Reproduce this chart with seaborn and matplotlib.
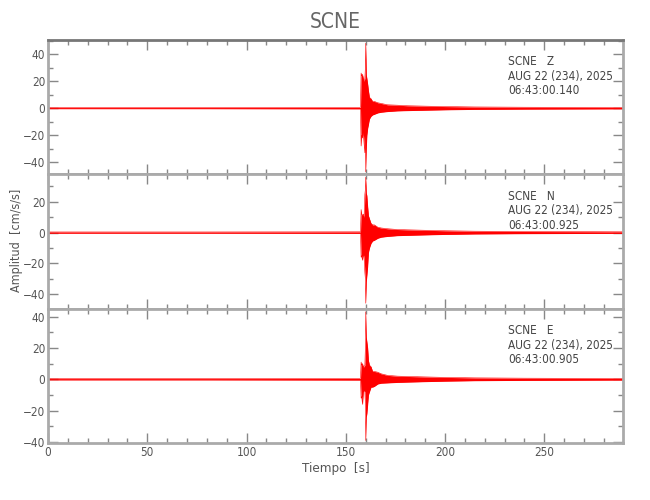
import matplotlib
matplotlib.use('Agg')
import matplotlib.pyplot as plt
from matplotlib.ticker import MultipleLocator
import pandas as pd
import seaborn as sns

# envelope of each trace (time in s, amplitude in cm/s/s)
t_s = [0, 80, 157.4, 157.7, 158.0, 158.4, 158.8, 159.2, 159.6, 159.85, 160.05, 160.3,
       160.6, 161.0, 161.4, 161.9, 162.7, 163.5, 164.4, 166.1, 167.8, 171, 176, 181,
       190, 200, 215, 240, 265, 289.5]

z_up = [0.4, 0.4, 0.5, 26, 24, 25, 22, 20, 22, 30, 48, 25,
        22, 18, 13, 8, 7, 5, 5, 4, 3.5, 2.5, 2.2, 1.8,
        1.5, 1.2, 0.9, 0.7, 0.6, 0.5]
z_lo = [-0.4, -0.4, -0.5, -28, -20, -22, -18, -26, -33, -20, -47, -30,
        -20, -15, -12, -8, -6, -5, -4.5, -3.5, -3, -2.5, -2, -1.8,
        -1.5, -1.2, -0.9, -0.7, -0.6, -0.5]

n_up = [0.4, 0.4, 0.5, 15, 12, 11, 12, 10, 25, 28, 36, 26,
        24, 17, 11, 9, 6, 5, 5, 3.5, 3, 2.5, 2, 1.8,
        1.5, 1.2, 0.9, 0.7, 0.6, 0.5]
n_lo = [-0.4, -0.4, -0.5, -16, -15, -18, -14, -16, -26, -30, -46, -32,
        -28, -22, -13, -10, -7, -5.5, -5, -3.7, -3, -2.5, -2, -1.8,
        -1.5, -1.2, -0.9, -0.7, -0.6, -0.5]

e_up = [0.4, 0.4, 0.5, 11, 9, 10, 8, 8, 9, 20, 43, 27,
        24, 20, 12, 9, 8, 5, 5, 4.5, 3.5, 2.5, 2, 1.8,
        1.5, 1.2, 0.9, 0.7, 0.6, 0.5]
e_lo = [-0.4, -0.4, -0.5, -12, -11, -16, -8, -7, -8, -15, -39, -24,
        -22, -16, -10, -8, -5, -5, -4.5, -3, -2.5, -2.3, -2, -1.8,
        -1.5, -1.2, -0.9, -0.7, -0.6, -0.5]

components = ['Z', 'N', 'E']
start_times = ['06:43:00.140', '06:43:00.925', '06:43:00.905']
y_limits = [(-48.9, 50.4), (-49.5, 37.9), (-40.6, 45.0)]

sns.set_style('ticks')
plt.rcParams['font.family'] = ['DejaVu Sans']
plt.rcParams['font.stretch'] = 'condensed'

fig, axes = plt.subplots(3, 1, figsize=(6.5, 5), dpi=100, sharex=True)
fig.subplots_adjust(left=0.074, right=0.958, top=0.92, bottom=0.114, hspace=0)

uppers = [z_up, n_up, e_up]
lowers = [z_lo, n_lo, e_lo]

for ax, comp, t0, lim, up, lo in zip(axes, components, start_times, y_limits, uppers, lowers):
    df = pd.DataFrame({'t': t_s, 'up': up, 'lo': lo})
    sns.lineplot(data=df, x='t', y='up', ax=ax, color='red', lw=0.4, estimator=None)
    sns.lineplot(data=df, x='t', y='lo', ax=ax, color='red', lw=0.4, estimator=None)
    ax.fill_between(df['t'], df['lo'], df['up'], color='red', lw=0)
    ax.set_xlim(0, 289.5)
    ax.set_ylim(*lim)
    ax.set_ylabel('')
    ax.set_xlabel('')
    ax.xaxis.set_major_locator(MultipleLocator(50))
    ax.xaxis.set_minor_locator(MultipleLocator(10))
    ax.yaxis.set_major_locator(MultipleLocator(20))
    ax.yaxis.set_minor_locator(MultipleLocator(10))
    ax.tick_params(which='both', direction='in', top=True, right=True,
                   color='#888888', labelcolor='#555555', labelsize=8.5, width=1, pad=2)
    ax.tick_params(which='major', length=7)
    ax.tick_params(which='minor', length=3.5)
    for s in ax.spines.values():
        s.set_color('#aaaaaa')
        s.set_linewidth(2)
    ax.text(0.80, 0.885, f'SCNE   {comp}\nAUG 22 (234), 2025\n{t0}',
            transform=ax.transAxes, ha='left', va='top', fontsize=8.5,
            color='#444444', linespacing=1.15)

axes[0].spines['top'].set_color('#777777')
axes[2].set_xlabel('Tiempo  [s]', fontsize=9.5, color='#555555', labelpad=2)
fig.text(0.025, 0.52, 'Amplitud  [cm/s/s]', rotation=90, ha='center', va='center',
         fontsize=9, color='#555555')
fig.text(0.516, 0.955, 'SCNE', ha='center', va='center', fontsize=15, color='#666666')

fig.savefig('out.png', dpi=100)
